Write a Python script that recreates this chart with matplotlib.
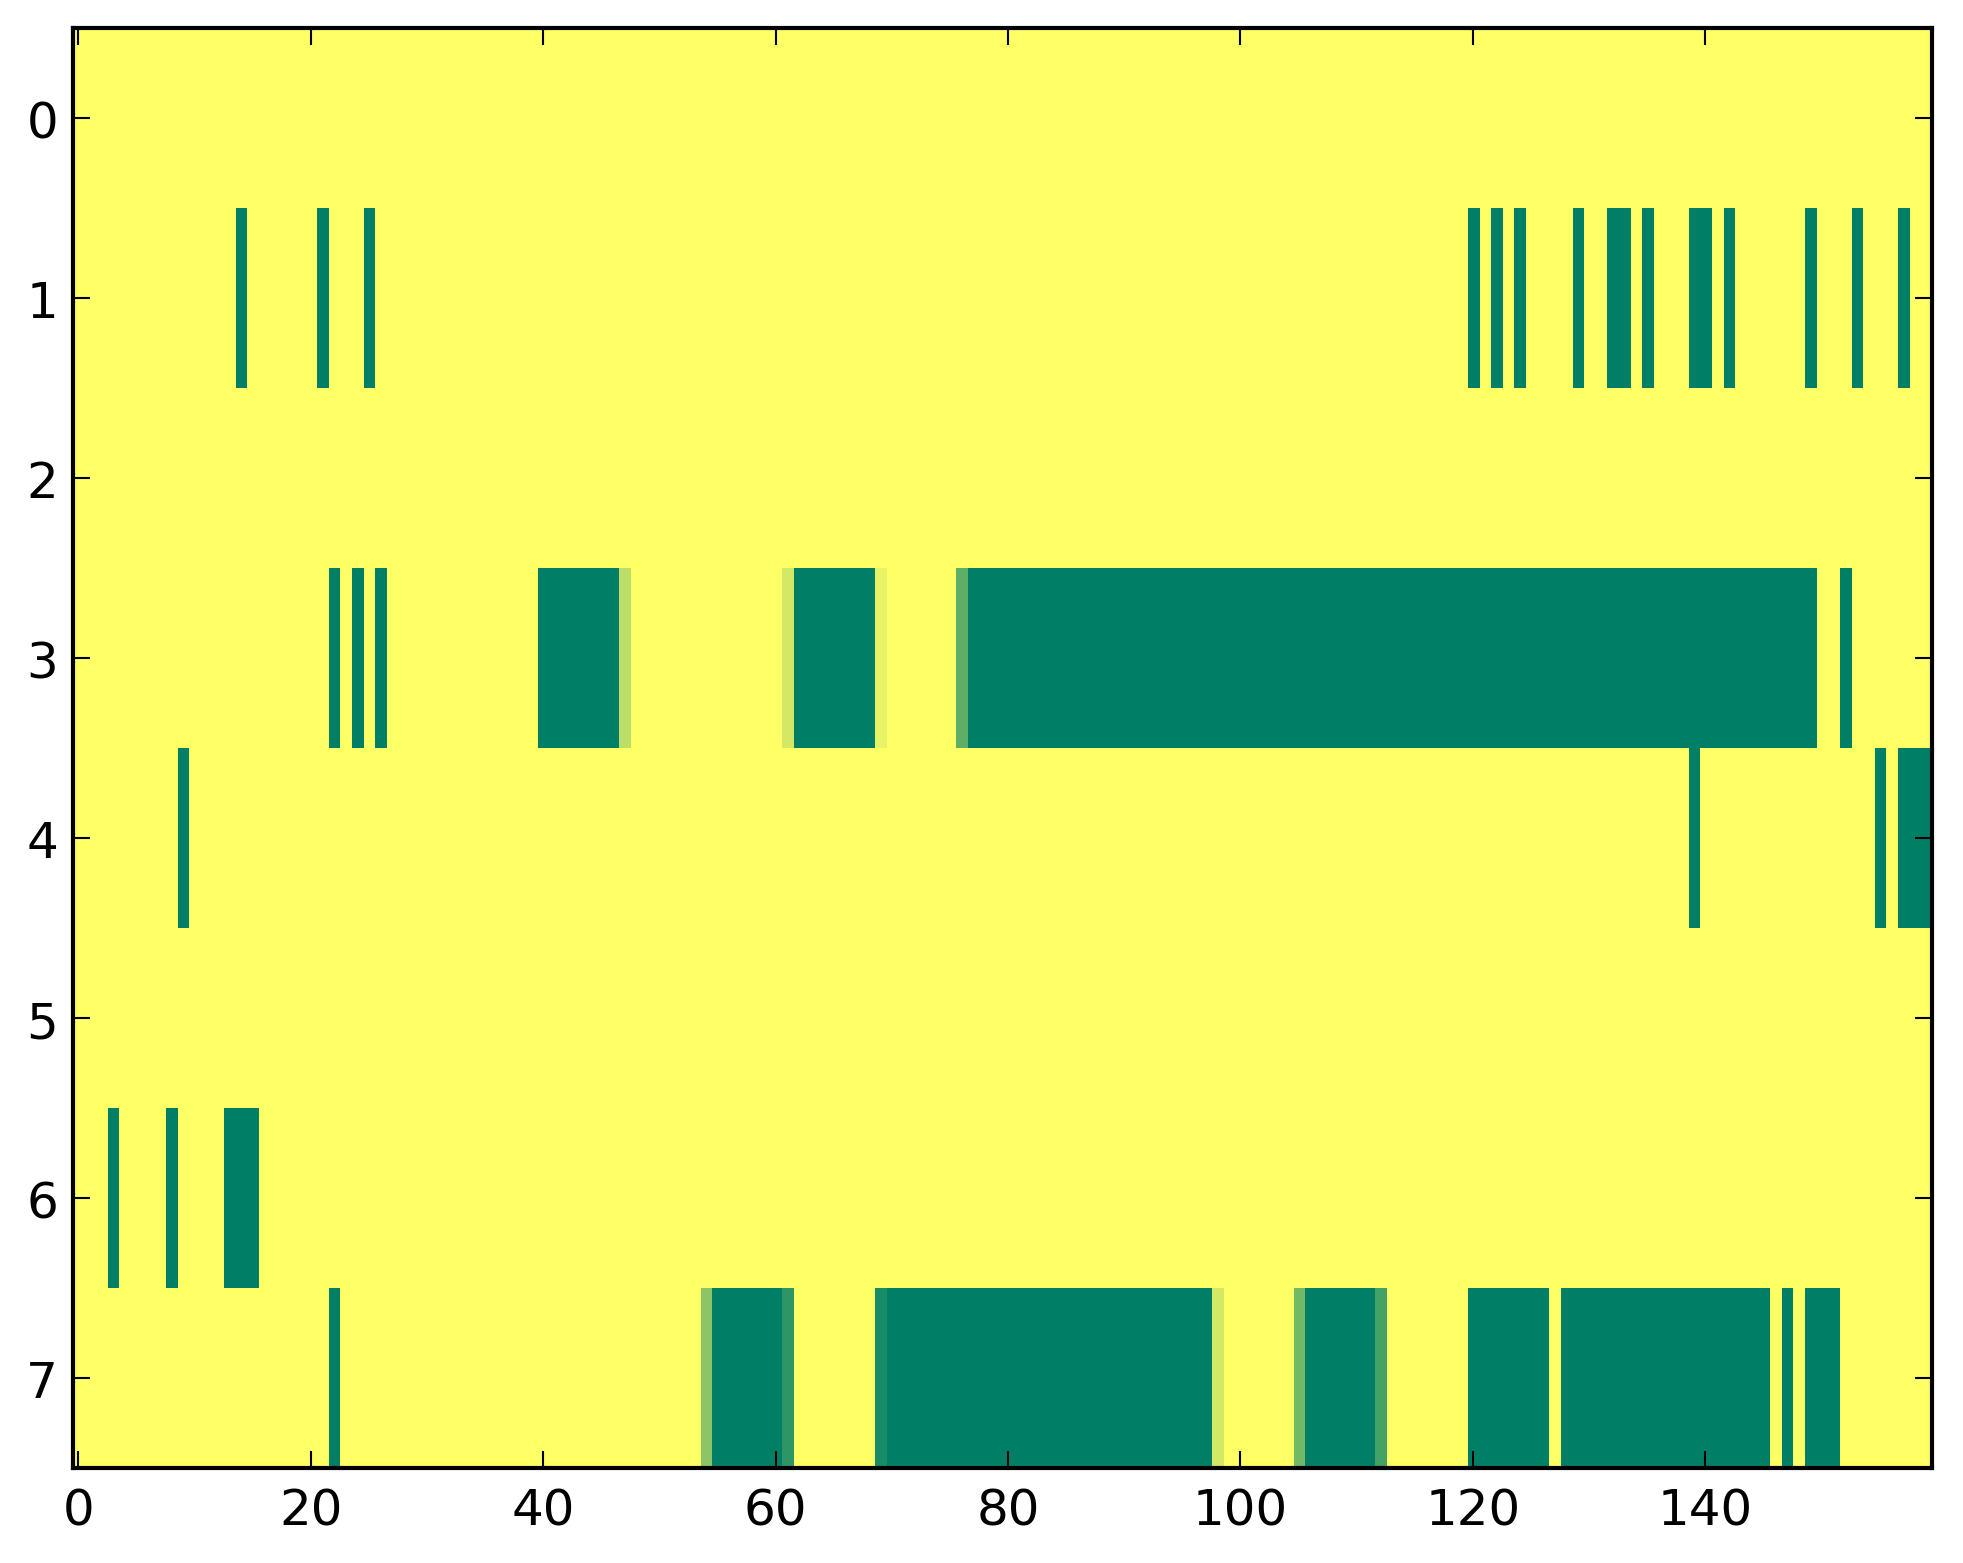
import numpy as np
import matplotlib.pyplot as plt

N_ROWS = 8
N_COLS = 160

# filled runs per row, inclusive (start, end) column indices
row1_runs = [(14, 14), (21, 21), (25, 25), (120, 120), (122, 122), (124, 124),
             (129, 129), (132, 133), (135, 135), (139, 140), (142, 142),
             (149, 149), (153, 153), (157, 157)]
row3_runs = [(22, 22), (24, 24), (26, 26), (40, 46), (62, 68), (77, 149),
             (152, 152)]
row4_runs = [(9, 9), (139, 139), (155, 155), (157, 159)]
row6_runs = [(3, 3), (8, 8), (13, 15)]
row7_runs = [(22, 22), (55, 60), (70, 97), (106, 111), (120, 126),
             (128, 145), (147, 147), (149, 151)]

# partially filled edge cells: (row, col, value)
partial_cells = [(3, 47, 0.26), (3, 61, 0.17), (3, 69, 0.09), (3, 76, 0.63),
                 (7, 54, 0.45), (7, 61, 0.82), (7, 69, 0.90), (7, 98, 0.17),
                 (7, 105, 0.55), (7, 112, 0.73)]

runs_by_row = {1: row1_runs, 3: row3_runs, 4: row4_runs,
               6: row6_runs, 7: row7_runs}

grid = np.zeros((N_ROWS, N_COLS))
for r, runs in runs_by_row.items():
    for a, b in runs:
        grid[r, a:b + 1] = 1.0
for r, c, v in partial_cells:
    grid[r, c] = v

plt.rcParams["font.family"] = "DejaVu Sans"

fig = plt.figure(figsize=(1963 / 300, 1564 / 300), dpi=300)
ax = fig.add_axes([0.0370, 0.0607, 0.9471, 0.9206])
ax.imshow(grid, cmap="summer_r", vmin=0, vmax=1, aspect="auto",
          interpolation="nearest")

ax.set_xticks(np.arange(0, 141, 20))
ax.set_yticks(np.arange(0, 8))
ax.tick_params(direction="in", top=True, right=True, length=4, width=0.5,
               labelsize=12)
ax.tick_params(axis="x", pad=4.5)
ax.tick_params(axis="y", pad=3.5)
for s in ax.spines.values():
    s.set_linewidth(1.0)

fig.savefig("out.png", dpi=300, facecolor="white")
